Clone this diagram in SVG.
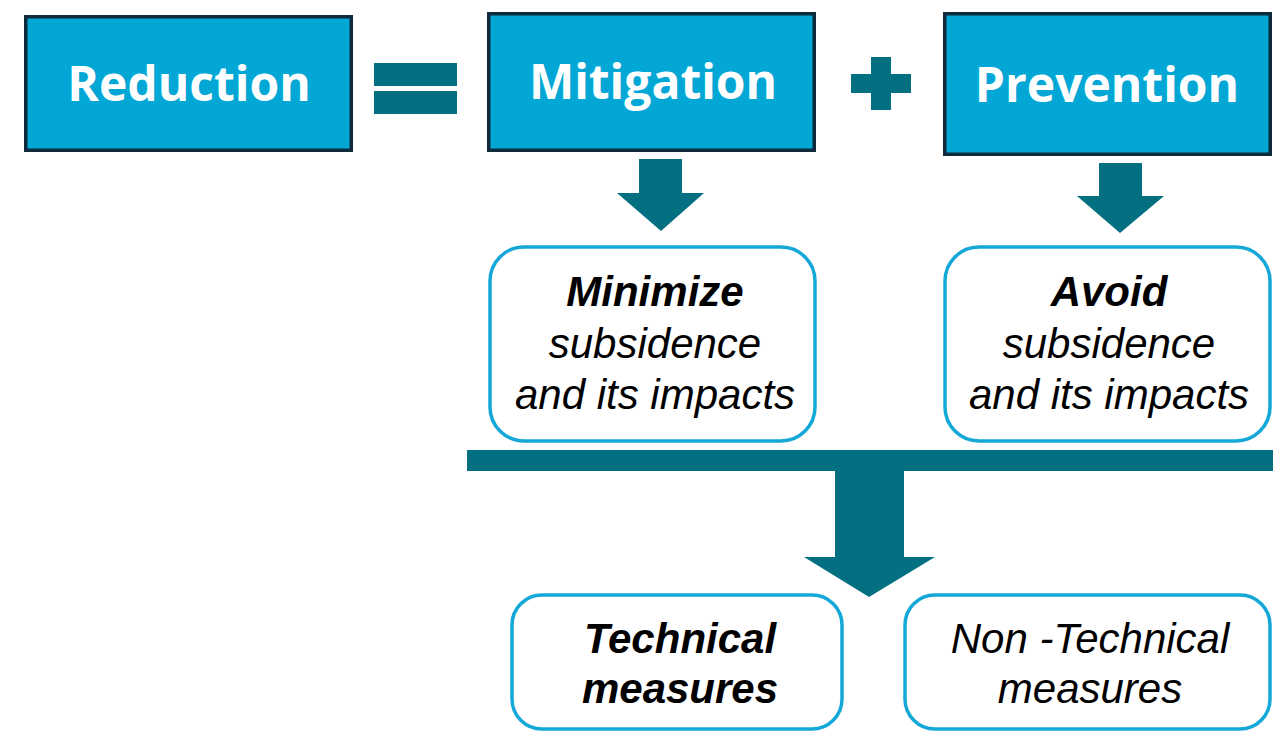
<svg xmlns="http://www.w3.org/2000/svg" width="1285" height="734" viewBox="0 0 1285 734">
  <style>
    .head rect { fill: #02A7D6; stroke: #0E2A3B; stroke-width: 3.5; }
    .head text { font-family: "Open Sans", "Liberation Sans", sans-serif; font-weight: 700; font-size: 48px; fill: #ffffff; text-anchor: middle; }
    .sym { fill: #037082; }
    .box rect { fill: #ffffff; stroke: #14A8D8; stroke-width: 3.5; }
    .box text { font-family: "Liberation Sans", Arial, sans-serif; font-style: italic; font-size: 42px; fill: #000000; text-anchor: middle; }
    .box text .b { font-weight: 700; }
  </style>

  <g id="reduction" class="head">
    <rect x="25.75" y="16.75" width="325.5" height="133.5"/>
    <text x="189" y="101">Reduction</text>
  </g>

  <g id="equals" class="sym">
    <rect x="374" y="63" width="83" height="23"/>
    <rect x="374" y="91" width="83" height="23"/>
  </g>

  <g id="mitigation" class="head">
    <rect x="488.75" y="13.75" width="325.5" height="136.5"/>
    <text x="653" y="99">Mitigation</text>
  </g>

  <g id="plus" class="sym">
    <rect x="851" y="74" width="60" height="19"/>
    <rect x="871" y="57" width="20" height="53"/>
  </g>

  <g id="prevention" class="head">
    <rect x="944.75" y="13.75" width="325.5" height="140.5"/>
    <text x="1107" y="102">Prevention</text>
  </g>

  <g id="minimize" class="box">
    <rect x="490" y="247" width="325" height="194" rx="34" ry="34"/>
    <text x="655" y="306"><tspan class="b">Minimize</tspan></text>
    <text x="655" y="358">subsidence</text>
    <text x="655" y="409">and its impacts</text>
  </g>

  <g id="avoid" class="box">
    <rect x="945" y="247" width="325" height="194" rx="34" ry="34"/>
    <text x="1109" y="306"><tspan class="b">Avoid</tspan></text>
    <text x="1109" y="358">subsidence</text>
    <text x="1109" y="409">and its impacts</text>
  </g>

  <g id="technical" class="box">
    <rect x="512" y="595" width="330" height="134" rx="30" ry="30"/>
    <text x="680" y="653"><tspan class="b">Technical</tspan></text>
    <text x="680" y="703"><tspan class="b">measures</tspan></text>
  </g>

  <g id="non-technical" class="box">
    <rect x="905" y="595" width="365" height="134" rx="30" ry="30"/>
    <text x="1090" y="653">Non -Technical</text>
    <text x="1090" y="703">measures</text>
  </g>

  <g id="connectors" class="sym">
    <polygon points="639,159 682,159 682,193 704,193 661,231 617,193 639,193"/>
    <polygon points="1099,163 1142,163 1142,196 1164,196 1120,233 1077,196 1099,196"/>
    <rect x="467" y="450" width="806" height="21"/>
    <polygon points="835,471 904,471 904,557 935,557 869,597 804,557 835,557"/>
  </g>
</svg>
